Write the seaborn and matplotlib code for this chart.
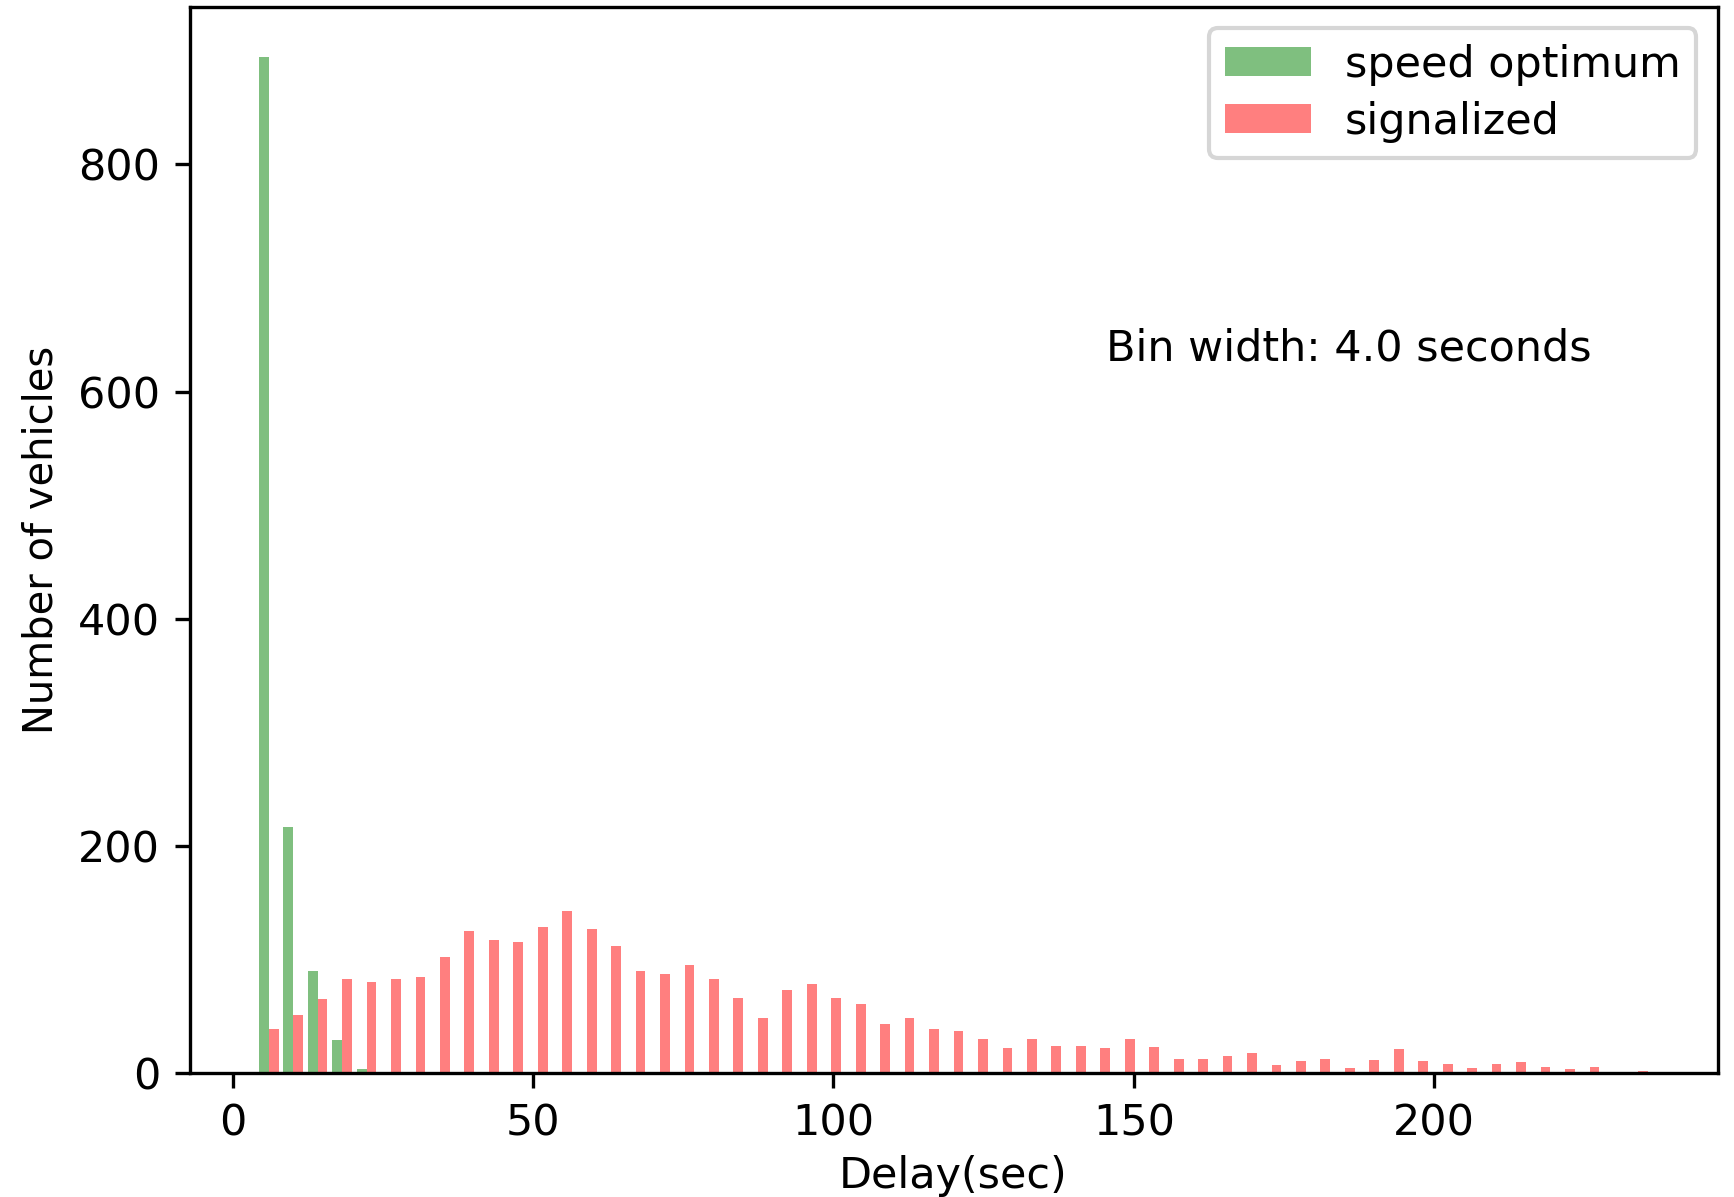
import numpy as np
import pandas as pd
import seaborn as sns
import matplotlib
matplotlib.use('Agg')
import matplotlib.pyplot as plt
from matplotlib.patches import Patch

plt.rcParams['font.size'] = 10.3

# bin edges of the histogram (57 bins between 4 s and 236 s)
bin_start = 4.0
bin_end = 236.0
n_bins = 57

# counts per bin
speed_optimum = [894, 217, 90, 29, 4] + [0] * 52
signalized = [39, 51, 65, 83, 80, 83, 85, 102, 125, 117, 116, 129, 143, 127,
              112, 90, 87, 95, 83, 66, 49, 73, 79, 66, 61, 43, 49, 39, 37, 30,
              22, 30, 24, 24, 22, 30, 23, 13, 13, 15, 18, 7, 11, 13, 5, 12,
              21, 11, 8, 5, 8, 10, 6, 4, 6, 0, 2]
series_names = ['speed optimum', 'signalized']
series_colors = ['green', 'red']

edges = np.linspace(bin_start, bin_end, n_bins + 1)
centers = (edges[:-1] + edges[1:]) / 2

df = pd.DataFrame({
    'delay': np.concatenate([centers, centers]),
    'count': speed_optimum + signalized,
    'kind': [series_names[0]] * n_bins + [series_names[1]] * n_bins,
})

fig = plt.figure(figsize=(1734 / 300, 1197 / 300), dpi=300)
ax = fig.add_axes([0.1093, 0.1033, 0.9906 - 0.1093, 0.9944 - 0.1033])

# side-by-side bars like plt.hist with two datasets
sns.histplot(data=df, x='delay', weights='count', hue='kind',
             hue_order=series_names,
             palette=dict(zip(series_names, series_colors)),
             bins=list(edges), multiple='dodge', shrink=0.8,
             alpha=0.5, linewidth=0, legend=False, ax=ax)

ax.set_xlabel('Delay(sec)', labelpad=2.5)
ax.set_ylabel('Number of vehicles', fontsize=9.6)
ax.text(0.600, 0.668, 'Bin width: 4.0 seconds', transform=ax.transAxes,
        va='baseline', ha='left')

handles = [Patch(facecolor=c, alpha=0.5) for c in series_colors]
ax.legend(handles, series_names, loc='upper right', borderpad=0.36,
          labelspacing=0.35, handleheight=0.65)

fig.savefig('out.png', dpi=300)
